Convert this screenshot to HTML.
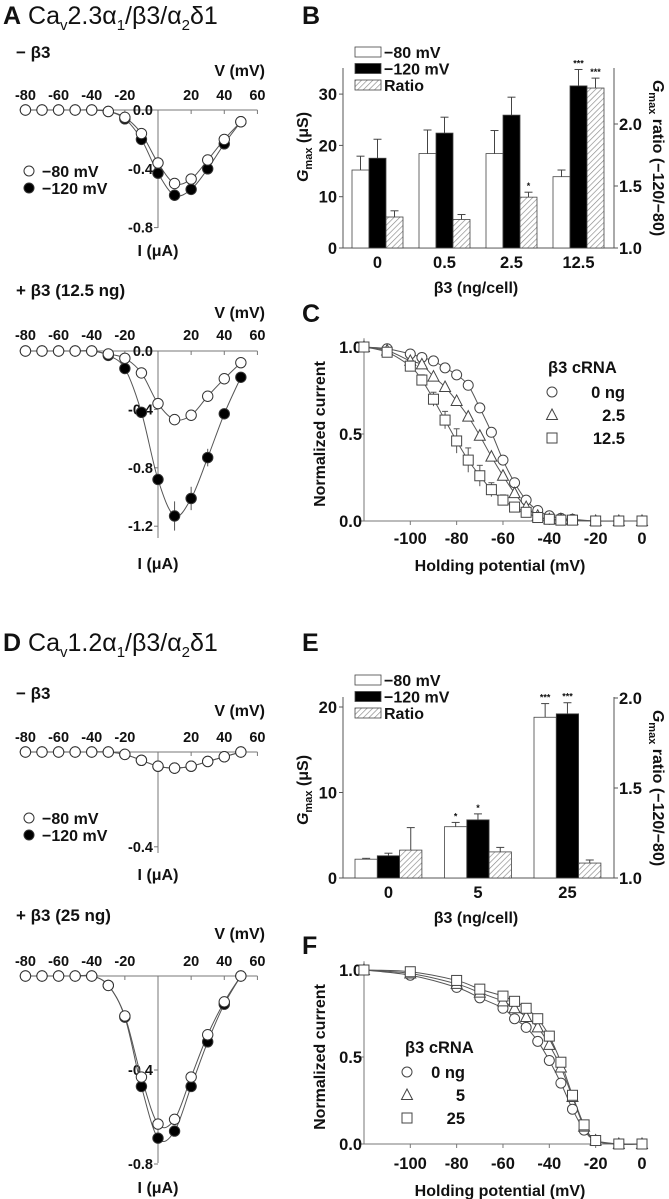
<!DOCTYPE html>
<html><head><meta charset="utf-8">
<style>
html,body{margin:0;padding:0;background:#fff;}
svg{display:block;font-family:"Liberation Sans",Arial,sans-serif;}
.t{font-weight:bold;fill:#111;}
.ti{fill:#111;}
</style></head>
<body>
<svg id="fig" width="669" height="1199" viewBox="0 0 669 1199" xmlns="http://www.w3.org/2000/svg">
<defs>
<pattern id="hatch" patternUnits="userSpaceOnUse" width="4" height="4" patternTransform="rotate(45)">
<rect width="4" height="4" fill="#fff"/><line x1="0" y1="0" x2="0" y2="4" stroke="#888" stroke-width="1.3"/>
</pattern>
</defs>
<text x="3" y="24" class="ti" font-size="25"><tspan font-weight="bold">A</tspan> Ca<tspan font-size="15" dy="6">v</tspan><tspan dy="-6">2.3α</tspan><tspan font-size="15" dy="6">1</tspan><tspan dy="-6">/β3/α</tspan><tspan font-size="15" dy="6">2</tspan><tspan dy="-6">δ1</tspan></text>
<text x="302" y="24" class="ti" font-size="25" font-weight="bold">B</text>
<text x="302" y="322" class="ti" font-size="25" font-weight="bold">C</text>
<text x="3" y="651" class="ti" font-size="25"><tspan font-weight="bold">D</tspan> Ca<tspan font-size="15" dy="6">v</tspan><tspan dy="-6">1.2α</tspan><tspan font-size="15" dy="6">1</tspan><tspan dy="-6">/β3/α</tspan><tspan font-size="15" dy="6">2</tspan><tspan dy="-6">δ1</tspan></text>
<text x="302" y="651" class="ti" font-size="25" font-weight="bold">E</text>
<text x="302" y="954" class="ti" font-size="25" font-weight="bold">F</text>
</svg>
<script>
// ---------- DATA ----------
const ivVolts = [-80,-70,-60,-50,-40,-30,-20,-10,0,10,20,30,40,50];
const a1Open   = [0,0,0,0,0,-0.01,-0.05,-0.16,-0.36,-0.50,-0.47,-0.34,-0.20,-0.08];
const a1Filled = [0,0,0,0,0,-0.01,-0.06,-0.20,-0.43,-0.58,-0.54,-0.40,-0.23,-0.08];
const a2Open   = [0,0,0,0,0,-0.02,-0.05,-0.15,-0.36,-0.47,-0.44,-0.31,-0.19,-0.08];
const a2Filled = [0,0,0,0,0,-0.03,-0.12,-0.42,-0.88,-1.13,-1.01,-0.73,-0.43,-0.18];
const a2FilledErr = [0,0,0,0,0,0,0,0,0.03,0.1,0.08,0.06,0.03,0.02];
const d1Open   = [0,0,0,0,0,0,-0.01,-0.035,-0.06,-0.068,-0.06,-0.04,-0.02,0];
const d1Filled = [0,0,0,0,0,0,-0.01,-0.035,-0.06,-0.068,-0.06,-0.04,-0.02,0];
const d2Open   = [0,0,0,0,0,-0.04,-0.17,-0.43,-0.63,-0.61,-0.43,-0.25,-0.11,0];
const d2Filled = [0,0,0,0,0,-0.04,-0.175,-0.47,-0.69,-0.66,-0.47,-0.28,-0.12,0];

const bCats = ['0','0.5','2.5','12.5'];
const b80 = [15.2,18.4,18.4,13.9];
const b80Err = [2.7,4.6,4.5,1.3];
const b120 = [17.5,22.4,25.9,31.6];
const b120Err = [3.7,3.1,3.5,3.2];
const bRatio = [1.25,1.23,1.41,2.29];
const bRatioErr = [0.05,0.04,0.04,0.08];
const bStars80 = ['','','',''];
const bStars120 = ['','','','***'];
const bStarsRatio = ['','','*','***'];

const eCats = ['0','5','25'];
const e80 = [2.2,6.0,18.8];
const e80Err = [0.1,0.5,1.6];
const e120 = [2.6,6.8,19.2];
const e120Err = [0.3,0.7,1.3];
const eRatio = [1.155,1.145,1.083];
const eRatioErr = [0.125,0.025,0.017];
const eStars80 = ['','*','***'];
const eStars120 = ['','*','***'];
const eStarsRatio = ['','',''];

const cVolts = [-120,-110,-100,-95,-90,-85,-80,-75,-70,-65,-60,-55,-50,-45,-40,-35,-30,-20,-10,0];
const c0   = [1,0.99,0.96,0.94,0.92,0.88,0.84,0.78,0.65,0.51,0.35,0.22,0.12,0.06,0.03,0.015,0.01,0,0,0];
const c25  = [1,0.98,0.92,0.90,0.83,0.77,0.69,0.60,0.49,0.37,0.26,0.16,0.08,0.03,0.01,0.01,0.005,0,0,0];
const c125 = [1,0.97,0.89,0.81,0.70,0.58,0.46,0.35,0.26,0.18,0.12,0.08,0.05,0.02,0.01,0.005,0.005,0,0,0];
const c125Err = [0,0.01,0.03,0.03,0.04,0.05,0.07,0.07,0.06,0.04,0.03,0.02,0.01,0.01,0,0,0,0,0,0];
const cTicks = [-100,-80,-60,-40,-20,0];

const fVolts = [-120,-100,-80,-70,-60,-55,-50,-45,-40,-35,-30,-25,-20,-10,0];
const f0  = [1,0.97,0.90,0.84,0.78,0.72,0.67,0.59,0.48,0.35,0.20,0.08,0.02,0,0];
const f5  = [1,0.98,0.92,0.87,0.82,0.78,0.73,0.67,0.57,0.44,0.27,0.10,0.02,0,0];
const f25 = [1,0.99,0.94,0.89,0.85,0.82,0.78,0.72,0.62,0.47,0.28,0.11,0.02,0,0];

// ---------- HELPERS ----------
const svg = document.getElementById('fig');
const NS = 'http://www.w3.org/2000/svg';
function mk(tag, attrs, name, parent){
  const e = document.createElementNS(NS, tag);
  for (const k in attrs) e.setAttribute(k, attrs[k]);
  
  
  (parent||svg).appendChild(e);
  return e;
}
function txt(x,y,s,name,opts){
  const o = Object.assign({x:x,y:y,class:'t','font-size':'15'},opts||{});
  const e = mk('text', o, name);
  e.textContent = s;
  return e;
}
function smooth(p){
  if (p.length<2) return '';
  let d = 'M'+p[0][0]+','+p[0][1];
  for (let i=0;i<p.length-1;i++){
    const p0=p[i-1]||p[i], p1=p[i], p2=p[i+1], p3=p[i+2]||p2;
    const c1x=p1[0]+(p2[0]-p0[0])/6, c1y=p1[1]+(p2[1]-p0[1])/6;
    const c2x=p2[0]-(p3[0]-p1[0])/6, c2y=p2[1]-(p3[1]-p1[1])/6;
    d+=' C'+c1x+','+c1y+' '+c2x+','+c2y+' '+p2[0]+','+p2[1];
  }
  return d;
}

// ---------- IV PANELS ----------
function ivPanel(cfg){
  const xV = v => 158 + v*1.657;
  const yI = i => cfg.y0 - i*cfg.ys;
  mk('line',{x1:xV(-80),y1:cfg.y0,x2:xV(60),y2:cfg.y0,stroke:'#777','stroke-width':1},cfg.id+'-x-axis');
  mk('line',{x1:158,y1:cfg.y0,x2:158,y2:cfg.bottom,stroke:'#777','stroke-width':1},cfg.id+'-y-axis');
  [-80,-60,-40,-20,20,40,60].forEach(v=>{
    mk('line',{x1:xV(v),y1:cfg.y0,x2:xV(v),y2:cfg.y0+4,stroke:'#777'},cfg.id+'-x-tick');
    txt(xV(v),cfg.tickY+5,String(v),cfg.id+'-x-tick-label',{'text-anchor':'middle','font-size':'14.5'});
  });
  cfg.yTicks.forEach(t=>{
    mk('line',{x1:154,y1:yI(t),x2:158,y2:yI(t),stroke:'#777'},cfg.id+'-y-tick');
    txt(153,yI(t)+5,t.toFixed(1),cfg.id+'-y-tick-label',{'text-anchor':'end','font-size':'14.5'});
  });
  txt(265,cfg.vY+6,'V (mV)',cfg.id+'-x-axis-title',{'text-anchor':'end','font-size':'16'});
  txt(158,cfg.iY+6,'I (μA)',cfg.id+'-y-axis-title',{'text-anchor':'middle','font-size':'16'});
  txt(16,cfg.titleY+6,cfg.title,cfg.id+'-condition-label',{'font-size':'17'});
  const series = [[cfg.filled,'#000','filled',cfg.filledErr],[cfg.open,'#fff','open',null]];
  series.forEach(s=>{
    const pts = ivVolts.map((v,i)=>[xV(v),yI(s[0][i])]);
    mk('path',{d:smooth(pts),fill:'none',stroke:'#555','stroke-width':1},cfg.id+'-fit-'+s[2]);
  });
  series.forEach(s=>{
    ivVolts.forEach((v,i)=>{
      if (s[3] && s[3][i]>0){
        mk('line',{x1:xV(v),y1:yI(s[0][i]-s[3][i]),x2:xV(v),y2:yI(s[0][i]+s[3][i]),stroke:'#555'},cfg.id+'-error-bar');
      }
      mk('circle',{cx:xV(v),cy:yI(s[0][i]),r:5.2,fill:s[1],stroke:'#333','stroke-width':1},cfg.id+'-point-'+s[2]);
    });
  });
  if (cfg.legendY){
    mk('circle',{cx:29,cy:cfg.legendY,r:5,fill:'#fff',stroke:'#333'},'legend-open-marker');
    txt(42,cfg.legendY+6,'−80 mV','legend-open-label',{'font-size':'16'});
    mk('circle',{cx:29,cy:cfg.legendY+17,r:5,fill:'#000',stroke:'#333'},'legend-filled-marker');
    txt(42,cfg.legendY+23,'−120 mV','legend-filled-label',{'font-size':'16'});
  }
}
ivPanel({id:'a1',y0:110,ys:147,bottom:228,yTicks:[0,-0.4,-0.8],tickY:95,vY:70,iY:250,titleY:52,title:'− β3',open:a1Open,filled:a1Filled,legendY:171});
ivPanel({id:'a2',y0:351,ys:146,bottom:538,yTicks:[0,-0.4,-0.8,-1.2],tickY:335,vY:312,iY:563,titleY:290,title:'+ β3 (12.5 ng)',open:a2Open,filled:a2Filled,filledErr:a2FilledErr});
ivPanel({id:'d1',y0:752,ys:237,bottom:853,yTicks:[-0.4],tickY:737,vY:710,iY:874,titleY:693,title:'− β3',open:d1Open,filled:d1Filled,legendY:818});
ivPanel({id:'d2',y0:976,ys:235,bottom:1163,yTicks:[-0.4,-0.8],tickY:961,vY:933,iY:1187,titleY:915,title:'+ β3 (25 ng)',open:d2Open,filled:d2Filled});

// ---------- BAR PANELS ----------
function barPanel(cfg){
  const yL = v => cfg.base - v*cfg.lScale;
  const yR = v => cfg.base - (v-1)*cfg.rScale;
  mk('line',{x1:343,y1:cfg.top,x2:343,y2:cfg.base,stroke:'#555'},cfg.id+'-left-axis');
  mk('line',{x1:614,y1:cfg.top,x2:614,y2:cfg.base,stroke:'#555'},cfg.id+'-right-axis');
  mk('line',{x1:343,y1:cfg.base,x2:614,y2:cfg.base,stroke:'#555'},cfg.id+'-x-axis');
  cfg.lTicks.forEach(t=>{
    mk('line',{x1:339,y1:yL(t),x2:343,y2:yL(t),stroke:'#555'},cfg.id+'-left-tick');
    txt(337,yL(t)+6,String(t),cfg.id+'-left-tick-label',{'text-anchor':'end','font-size':'16.5'});
  });
  cfg.rTicks.forEach(t=>{
    mk('line',{x1:614,y1:yR(t),x2:618,y2:yR(t),stroke:'#555'},cfg.id+'-right-tick');
    txt(619,yR(t)+6,t.toFixed(1),cfg.id+'-right-tick-label',{'font-size':'16.5'});
  });
  cfg.cats.forEach((c,i)=>{
    const x0 = cfg.x0 + i*cfg.gap, w = cfg.bw;
    const bars = [
      [x0,yL(cfg.v80[i]),yL(cfg.v80[i]+cfg.e80[i]),'#fff',cfg.s80[i],'bar-80mv'],
      [x0+w,yL(cfg.v120[i]),yL(cfg.v120[i]+cfg.e120[i]),'#000',cfg.s120[i],'bar-120mv'],
      [x0+2*w,yR(cfg.vr[i]),yR(cfg.vr[i]+cfg.er[i]),'url(#hatch)',cfg.sr[i],'bar-ratio']
    ];
    bars.forEach(b=>{
      mk('line',{x1:b[0]+w/2,y1:b[1],x2:b[0]+w/2,y2:b[2],stroke:'#444'},cfg.id+'-error-bar');
      mk('line',{x1:b[0]+w/2-4,y1:b[2],x2:b[0]+w/2+4,y2:b[2],stroke:'#444'},cfg.id+'-error-cap');
      mk('rect',{x:b[0],y:b[1],width:w,height:cfg.base-b[1],fill:b[3],stroke:'#444','stroke-width':0.8},cfg.id+'-'+b[5]);
      if (b[4]) txt(b[0]+w/2,b[2]-3,b[4],cfg.id+'-significance',{'text-anchor':'middle','font-size':'9','font-weight':'normal',fill:'#888'});
    });
    txt(x0+1.5*w,cfg.base+20,c,cfg.id+'-x-tick-label',{'text-anchor':'middle','font-size':'16.5'});
  });
  txt(476,cfg.base+45,'β3 (ng/cell)',cfg.id+'-x-axis-title',{'text-anchor':'middle','font-size':'16'});
  const gl = mk('text',{x:0,y:0,class:'t','font-size':'16','text-anchor':'middle',transform:'translate('+(cfg.lx)+','+cfg.lcy+') rotate(-90)'},cfg.id+'-left-axis-title');
  gl.innerHTML = '<tspan font-style="italic">G</tspan><tspan font-size="11" dy="4">max</tspan><tspan dy="-4"> (μS)</tspan>';
  const gr = mk('text',{x:0,y:0,class:'t','font-size':'16','text-anchor':'middle',transform:'translate(653,'+cfg.rcy+') rotate(90)'},cfg.id+'-right-axis-title');
  gr.innerHTML = '<tspan font-style="italic">G</tspan><tspan font-size="11" dy="4">max</tspan><tspan dy="-4"> ratio (−120/−80)</tspan>';
  const L = cfg.legend;
  [['#fff','−80 mV'],['#000','−120 mV'],['url(#hatch)','Ratio']].forEach((e,k)=>{
    mk('rect',{x:355,y:L+k*16.5-5,width:26,height:10,fill:e[0],stroke:'#444','stroke-width':0.8},cfg.id+'-legend-swatch');
    txt(384,L+k*16.5+6,e[1],cfg.id+'-legend-label',{'font-size':'16','font-weight':'normal'});
  });
}
barPanel({id:'b',base:248,top:68,lScale:5.13,rScale:124,lTicks:[0,10,20,30],rTicks:[1.0,1.5,2.0],cats:bCats,x0:352,gap:67,bw:17,
  v80:b80,e80:b80Err,v120:b120,e120:b120Err,vr:bRatio,er:bRatioErr,s80:bStars80,s120:bStars120,sr:bStarsRatio,lx:308,lcy:147,rcy:158,legend:52});
barPanel({id:'e',base:878,top:697,lScale:8.55,rScale:180,lTicks:[0,10,20],rTicks:[1.0,1.5,2.0],cats:eCats,x0:355,gap:89.5,bw:22.3,
  v80:e80,e80:e80Err,v120:e120,e120:e120Err,vr:eRatio,er:eRatioErr,s80:eStars80,s120:eStars120,sr:eStarsRatio,lx:308,lcy:790,rcy:788,legend:680});

// ---------- INACTIVATION PANELS ----------
function inactPanel(cfg){
  const xV = v => 642 + v*2.317;
  const yN = n => cfg.y0 - n*cfg.ys;
  mk('line',{x1:364,y1:yN(1.05),x2:364,y2:yN(0),stroke:'#777'},cfg.id+'-y-axis');
  mk('line',{x1:364,y1:yN(0),x2:xV(0),y2:yN(0),stroke:'#777'},cfg.id+'-x-axis');
  [0,0.5,1.0].forEach(t=>{
    mk('line',{x1:360,y1:yN(t),x2:364,y2:yN(t),stroke:'#777'},cfg.id+'-y-tick');
    txt(362,yN(t)+6,t.toFixed(1),cfg.id+'-y-tick-label',{'text-anchor':'end','font-size':'16.5'});
  });
  cTicks.forEach(v=>{
    mk('line',{x1:xV(v),y1:yN(0),x2:xV(v),y2:yN(0)+4,stroke:'#777'},cfg.id+'-x-tick');
    txt(xV(v),cfg.tickY+6,String(v),cfg.id+'-x-tick-label',{'text-anchor':'middle','font-size':'16.5'});
  });
  txt(500,cfg.xlY+6,'Holding potential (mV)',cfg.id+'-x-axis-title',{'text-anchor':'middle','font-size':'16'});
  txt(0,0,'Normalized current',cfg.id+'-y-axis-title',{'text-anchor':'middle','font-size':'16',transform:'translate(325,'+yN(0.5)+') rotate(-90)'});
  cfg.series.forEach(s=>{
    const pts = cfg.volts.map((v,i)=>[xV(v),yN(s.vals[i])]);
    mk('path',{d:smooth(pts),fill:'none',stroke:'#555','stroke-width':1},cfg.id+'-fit-'+s.name);
  });
  cfg.series.forEach(s=>{
    cfg.volts.forEach((v,i)=>{
      const x=xV(v), y=yN(s.vals[i]);
      if (s.err && s.err[i]>0){
        mk('line',{x1:x,y1:y-s.err[i]*cfg.ys,x2:x,y2:y+s.err[i]*cfg.ys,stroke:'#555'},cfg.id+'-error-bar');
        mk('line',{x1:x-3,y1:y-s.err[i]*cfg.ys,x2:x+3,y2:y-s.err[i]*cfg.ys,stroke:'#555'},cfg.id+'-error-cap');
      }
      drawMarker(s.shape,x,y,cfg.id+'-point-'+s.name);
    });
  });
  const L = cfg.leg;
  txt(L.x,L.y+6,'β3 cRNA',cfg.id+'-legend-title',{'font-size':'16.5'});
  cfg.series.forEach((s,k)=>{
    drawMarker(s.shape,L.sx,L.y+25+k*23,cfg.id+'-legend-marker');
    txt(L.tx,L.y+31+k*23,s.label,cfg.id+'-legend-label',{'font-size':'16.5','text-anchor':'end'});
  });
}
function drawMarker(shape,x,y,name){
  if (shape==='circle') mk('circle',{cx:x,cy:y,r:5,fill:'#fff',stroke:'#444'},name);
  else if (shape==='square') mk('rect',{x:x-5,y:y-5,width:10,height:10,fill:'#fff',stroke:'#444'},name);
  else mk('polygon',{points:(x)+','+(y-6)+' '+(x-5.5)+','+(y+4.5)+' '+(x+5.5)+','+(y+4.5),fill:'#fff',stroke:'#444'},name);
}
inactPanel({id:'c',y0:521,ys:174,tickY:538,xlY:565,volts:cVolts,
  series:[{name:'0ng',shape:'circle',vals:c0,label:'0 ng'},{name:'2-5ng',shape:'triangle',vals:c25,label:'2.5'},{name:'12-5ng',shape:'square',vals:c125,err:c125Err,label:'12.5'}],
  leg:{x:548,y:367,sx:552,tx:625}});
inactPanel({id:'f',y0:1144,ys:174,tickY:1163,xlY:1190,volts:fVolts,
  series:[{name:'0ng',shape:'circle',vals:f0,label:'0 ng'},{name:'5ng',shape:'triangle',vals:f5,label:'5'},{name:'25ng',shape:'square',vals:f25,label:'25'}],
  leg:{x:405,y:1047,sx:407,tx:465}});
</script>
</body></html>
